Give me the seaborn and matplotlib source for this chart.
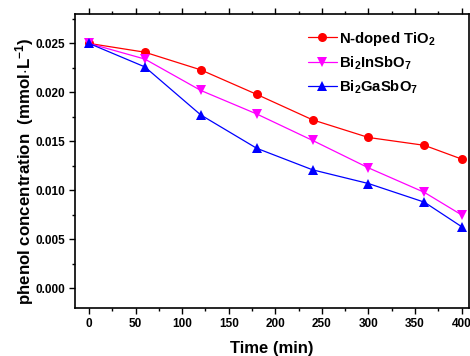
import numpy as np
import pandas as pd
import matplotlib
matplotlib.use('Agg')
import matplotlib.pyplot as plt
from matplotlib.ticker import MultipleLocator, FormatStrFormatter
import seaborn as sns

# Data
time_min = [0, 60, 120, 180, 240, 300, 360, 400]
tio2_n = [0.0250, 0.0241, 0.0223, 0.0198, 0.0172, 0.0154, 0.0146, 0.0132]
bi2insbo7 = [0.0250, 0.0234, 0.0202, 0.0178, 0.0151, 0.0123, 0.0098, 0.0075]
bi2gasbo7 = [0.0250, 0.0226, 0.0177, 0.0143, 0.0121, 0.0107, 0.0088, 0.0063]
names = ['N-doped TiO$_2$', 'Bi$_2$InSbO$_7$', 'Bi$_2$GaSbO$_7$']
colors = ['#ff0000', '#ff00ff', '#0000ff']
marker_list = ['o', 'v', '^']

df = pd.DataFrame({
    'time': time_min * 3,
    'conc': tio2_n + bi2insbo7 + bi2gasbo7,
    'sample': [n for n in names for _ in time_min],
})

sns.set_style('ticks')
plt.rcParams['font.family'] = ['Liberation Sans', 'DejaVu Sans']
plt.rcParams['font.weight'] = 'bold'
plt.rcParams['text.color'] = 'black'
plt.rcParams['axes.labelcolor'] = 'black'
plt.rcParams['mathtext.fontset'] = 'custom'
plt.rcParams['mathtext.rm'] = 'Liberation Sans:bold'
plt.rcParams['mathtext.bf'] = 'Liberation Sans:bold'
plt.rcParams['mathtext.it'] = 'Liberation Sans:bold'
plt.rcParams['mathtext.default'] = 'bf'

fig = plt.figure(figsize=(4.7, 3.56), dpi=100)
ax = fig.add_axes([0.1596, 0.1348, 0.8384, 0.8259])

sns.lineplot(data=df, x='time', y='conc', hue='sample', style='sample',
             palette=dict(zip(names, colors)), markers=dict(zip(names, marker_list)),
             dashes=False, markersize=6.5, markeredgewidth=0, linewidth=0.9, ax=ax)

ax.set_xlim(-15, 408)
ax.set_ylim(-0.002, 0.028)
ax.xaxis.set_major_locator(MultipleLocator(50))
ax.xaxis.set_minor_locator(MultipleLocator(25))
ax.yaxis.set_major_locator(MultipleLocator(0.005))
ax.yaxis.set_minor_locator(MultipleLocator(0.0025))
ax.yaxis.set_major_formatter(FormatStrFormatter('%.3f'))

ax.tick_params(which='both', direction='out', top=True, right=False, width=1,
               labelsize=8.5, colors='black')
ax.tick_params(which='major', length=4, pad=3)
ax.tick_params(which='minor', length=2.5)
ax.tick_params(axis='x', which='both', labeltop=False)
for lab in ax.get_xticklabels() + ax.get_yticklabels():
    lab.set_fontweight('bold')
for s in ax.spines.values():
    s.set_linewidth(1.2)
    s.set_color('black')

ax.set_xlabel('Time (min)', fontsize=12, fontweight='bold', labelpad=8, color='black')
ax.set_ylabel('phenol concentration  (mmol$\\cdot$L$^{-1}$)', fontsize=12.2,
              fontweight='bold', color='black')
ax.yaxis.set_label_coords(-0.1, 0.466)

leg = ax.legend(loc='upper left', frameon=False, fontsize=10.7, handlelength=2.0,
                handletextpad=0.15, labelspacing=0.45, borderaxespad=0,
                bbox_to_anchor=(0.575, 0.967))
for t in leg.get_texts():
    t.set_color('black')

fig.savefig('out.png', dpi=100)
